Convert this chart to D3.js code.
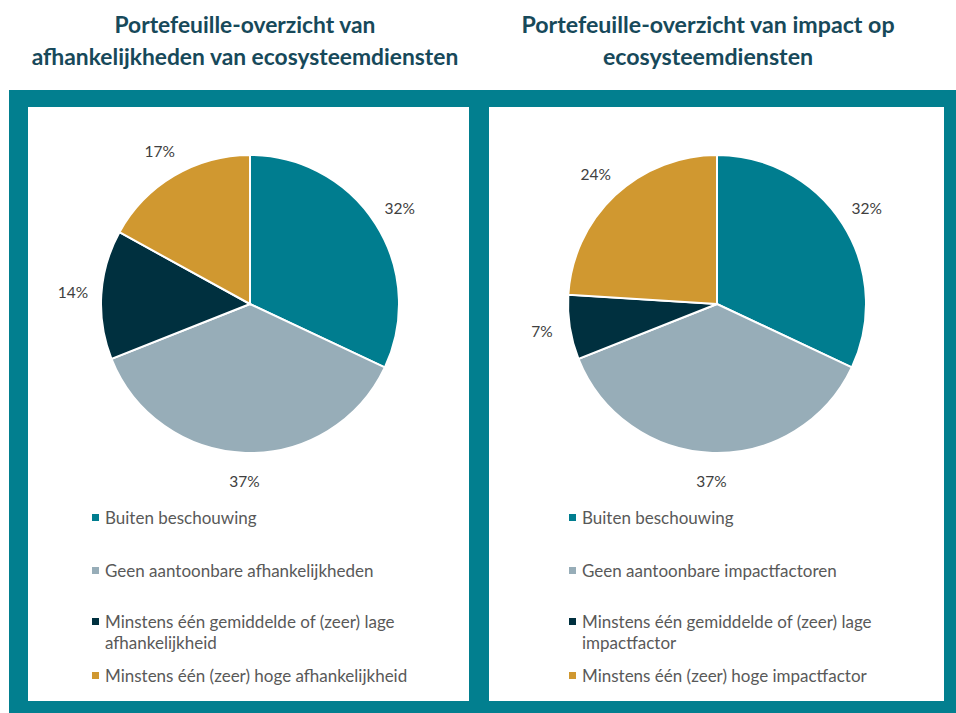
<!DOCTYPE html>
<html><head><meta charset="utf-8">
<script src="https://cdn.jsdelivr.net/npm/d3@7"></script>
<style>body{margin:0;background:#fff;}svg{display:block;font-family:Lato,"Open Sans",sans-serif;}</style>
</head><body><svg id="c" width="956" height="713"></svg>
<script>
const categoriesLeft = ["Buiten beschouwing","Geen aantoonbare afhankelijkheden","Minstens één gemiddelde of (zeer) lage afhankelijkheid","Minstens één (zeer) hoge afhankelijkheid"];
const categoriesRight = ["Buiten beschouwing","Geen aantoonbare impactfactoren","Minstens één gemiddelde of (zeer) lage impactfactor","Minstens één (zeer) hoge impactfactor"];
const valuesLeft = [32, 37, 14, 17];
const valuesRight = [32, 37, 7, 24];
const titleLeft = ["Portefeuille-overzicht van","afhankelijkheden van ecosysteemdiensten"];
const titleRight = ["Portefeuille-overzicht van impact op","ecosysteemdiensten"];
const colors = ["#007d8f","#97adb8","#00303f","#d09830"];

const svg = d3.select("#c");
const teal = "#027f8f";
svg.append("rect").attr("x",9).attr("y",90).attr("width",947).attr("height",623).attr("fill",teal);
svg.append("rect").attr("x",28).attr("y",107).attr("width",441).attr("height",594).attr("fill","#fff");
svg.append("rect").attr("x",489).attr("y",107).attr("width",455).attr("height",594).attr("fill","#fff");

function panel(cx, cy, r, vals, cats, title, titleX, legX, titleSize) {
  const g = svg.append("g");
  title.forEach((t,i)=>{
    g.append("text").attr("x",titleX).attr("y",33+i*32).attr("text-anchor","middle")
      .attr("font-size",titleSize).attr("font-weight","bold").attr("fill","#17495a").text(t);
  });
  const pie = d3.pie().sort(null).value(d=>d)(vals);
  const arc = d3.arc().innerRadius(0).outerRadius(r);
  const labArc = d3.arc().innerRadius(r*1.19).outerRadius(r*1.19);
  const pg = g.append("g").attr("transform",`translate(${cx},${cy})`);
  pg.selectAll("path").data(pie).join("path").attr("d",arc)
    .attr("fill",(d,i)=>colors[i]).attr("stroke","#fff").attr("stroke-width",2);
  pg.selectAll("text").data(pie).join("text")
    .attr("transform",d=>`translate(${labArc.centroid(d)})`)
    .attr("text-anchor","middle").attr("dy","0.35em")
    .attr("font-size",15.5).attr("fill","#404040").text(d=>d.data+"%");
  const rowsY = [[518],[571],[622,643],[676]];
  cats.forEach((c,i)=>{
    let lines;
    if (i===2) { const k = c.lastIndexOf(" "); lines=[c.slice(0,k), c.slice(k+1)]; }
    else lines=[c];
    g.append("rect").attr("x",legX).attr("y",rowsY[i][0]-4).attr("width",7).attr("height",7).attr("fill",colors[i]);
    lines.forEach((l,j)=>{
      g.append("text").attr("x",legX+13).attr("y",rowsY[i][j]).attr("dy","0.35em")
        .attr("font-size",17).attr("fill","#595959").text(l);
    });
  });
}
panel(250, 304, 149, valuesLeft, categoriesLeft, titleLeft, 245, 92, 22.8);
panel(717, 304, 149, valuesRight, categoriesRight, titleRight, 708, 569, 23.2);
</script></body></html>
